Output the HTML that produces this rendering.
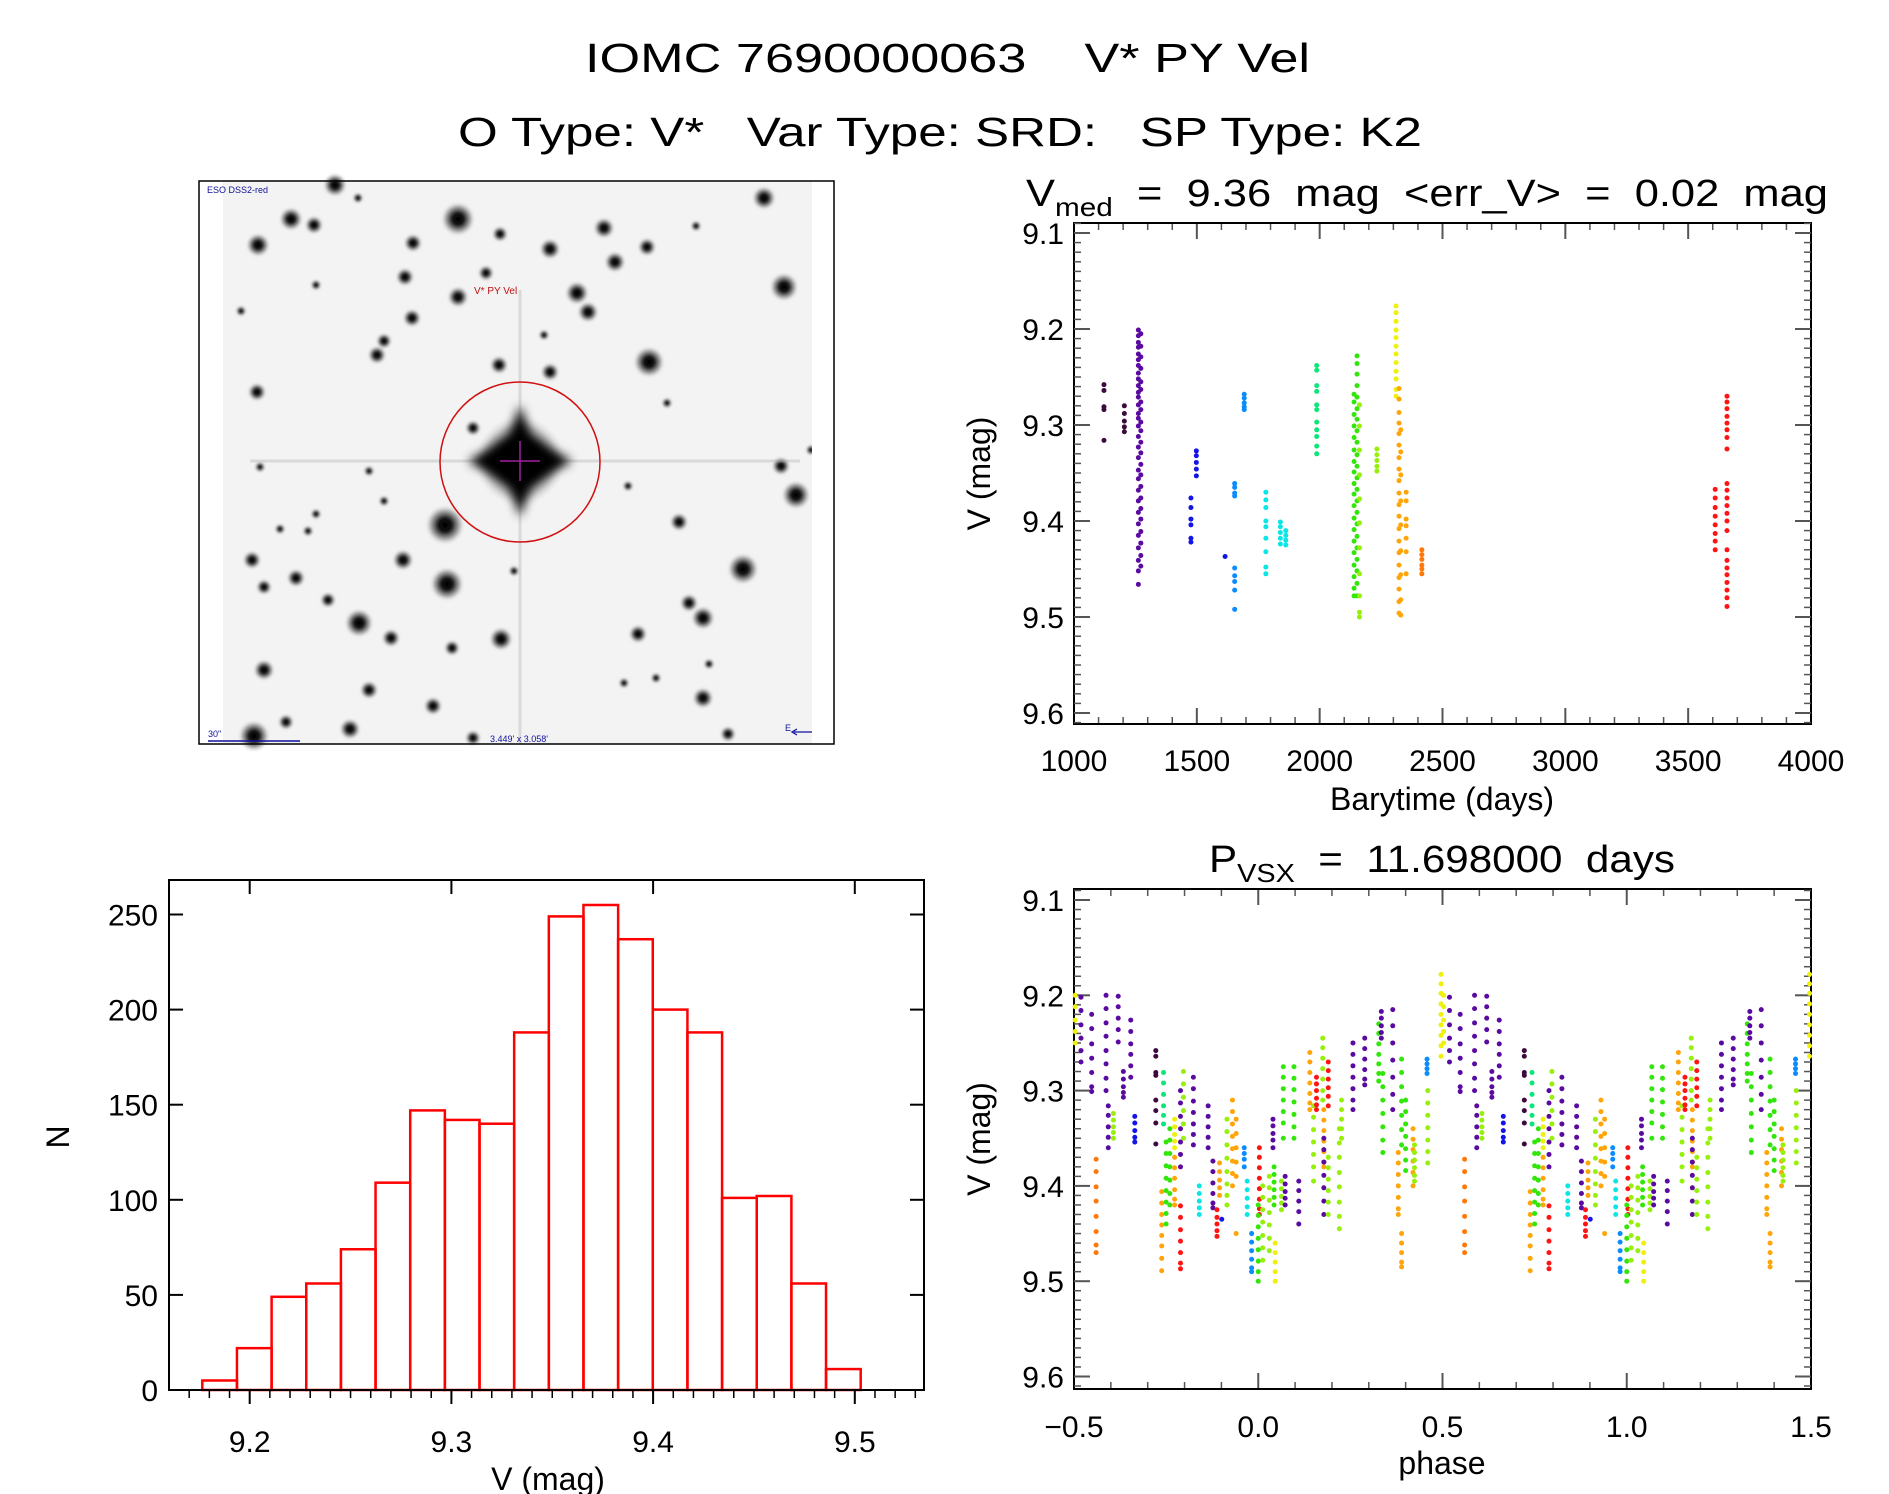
<!DOCTYPE html>
<html><head><meta charset="utf-8">
<style>
html,body{margin:0;padding:0;background:#fff;}
svg{display:block;font-family:"Liberation Sans",sans-serif;}
text{white-space:pre;}
</style></head>
<body>
<svg id="fig" width="1889" height="1494" viewBox="0 0 1889 1494" xmlns="http://www.w3.org/2000/svg">
<defs>
<radialGradient id="starg"><stop offset="0" stop-color="#000"/><stop offset="0.35" stop-color="#111"/><stop offset="0.7" stop-color="#666" stop-opacity="0.6"/><stop offset="1" stop-color="#ccc" stop-opacity="0"/></radialGradient>
<radialGradient id="maing"><stop offset="0" stop-color="#000"/><stop offset="0.4" stop-color="#111"/><stop offset="0.75" stop-color="#777" stop-opacity="0.5"/><stop offset="1" stop-color="#ddd" stop-opacity="0"/></radialGradient>
<filter id="blur1" x="-20%" y="-20%" width="140%" height="140%"><feGaussianBlur stdDeviation="1.2"/></filter>
<filter id="blur6" x="-50%" y="-50%" width="200%" height="200%"><feGaussianBlur stdDeviation="5"/></filter>
</defs>
<rect width="1889" height="1494" fill="#fff"/>
<text x="585" y="72" font-size="41" textLength="725" lengthAdjust="spacingAndGlyphs">IOMC 7690000063    V* PY Vel</text>
<text x="458" y="146" font-size="41" textLength="964" lengthAdjust="spacingAndGlyphs">O Type: V*   Var Type: SRD:   SP Type: K2</text>

<g id="image-panel">
<rect x="223" y="181" width="589" height="563" fill="#f3f3f3"/>
<g id="stars" filter="url(#blur1)"></g>
<line x1="250" y1="461" x2="800" y2="461" stroke="#aaa" stroke-width="3" opacity="0.35"/>
<line x1="520" y1="290" x2="520" y2="744" stroke="#aaa" stroke-width="3" opacity="0.35"/>
<circle cx="520" cy="461" r="45" fill="url(#maing)"/>
<g filter="url(#blur6)">
<polygon points="520,405 540,461 520,517 500,461" fill="#000"/>
<polygon points="520,431 572,461 520,491 468,461" fill="#000"/>
<circle cx="520" cy="461" r="22" fill="#000"/>
</g>
<line x1="500" y1="461" x2="540" y2="461" stroke="#a020a0" stroke-width="1.5"/>
<line x1="520" y1="441" x2="520" y2="481" stroke="#a020a0" stroke-width="1.5"/>
<circle cx="520" cy="462" r="80" fill="none" stroke="#d01010" stroke-width="1.5"/>
<text x="474" y="294" font-size="10" fill="#c01010">V* PY Vel</text>
<text x="207" y="193" font-size="9" fill="#10109a">ESO DSS2-red</text>
<text x="208" y="737" font-size="9" fill="#10109a">30"</text>
<line x1="208" y1="741" x2="300" y2="741" stroke="#10109a" stroke-width="1.5"/>
<text x="490" y="742" font-size="9" fill="#10109a">3.449' x 3.058'</text>
<path d="M825,702 L825,732 L794,732 M822,706 L825,700 L828,706 M797,729 L792,732 L797,735" fill="none" stroke="#10109a" stroke-width="1.3"/>
<text x="827" y="700" font-size="9" fill="#10109a">N</text>
<text x="785" y="731" font-size="9" fill="#10109a">E</text>
<rect x="812" y="181" width="24" height="563" fill="#fff"/>
<rect x="199" y="181" width="635" height="563" fill="none" stroke="#000" stroke-width="1.5"/>
</g>

<g id="hist"></g>
<g id="lc"></g>
<g id="ph"></g>
</svg>
<script>
// ---------------- data ----------------
const histCounts = [5,22,49,56,74,109,147,142,140,188,249,255,237,200,188,101,102,56,11];
const histStart = 9.1765;
const histBinWidth = 0.01718;
const histYTicks = [0,50,100,150,200,250];
const histXTicks = [9.2,9.3,9.4,9.5];
const colors = ["#3c0a3c","#5a0aa0","#1414e6","#0a8cff","#0ae6e6","#0ae678","#32e60a","#96f00a","#f0f00a","#ffa50a","#ff780a","#ff1414"];
const lcTimes = [1122,1205,1262,1272,1476,1498,1615,1654,1693,1781,1840,1862,1988,2140,2152,2162,2233,2311,2323,2330,2352,2416,3610,3658];
const lcColor = [0,0,1,1,2,2,2,3,3,4,4,4,5,6,6,7,7,8,9,9,9,10,11,11];
const lcMags = [
 [9.258,9.264,9.281,9.284,9.316],
 [9.280,9.288,9.296,9.302,9.307],
 [9.201,9.207,9.214,9.219,9.226,9.232,9.238,9.246,9.252,9.259,9.266,9.271,9.279,9.288,9.293,9.301,9.312,9.323,9.334,9.347,9.356,9.368,9.379,9.391,9.403,9.415,9.428,9.441,9.452,9.466],
 [9.205,9.218,9.229,9.241,9.255,9.263,9.276,9.284,9.297,9.306,9.318,9.329,9.341,9.352,9.364,9.376,9.387,9.398,9.411,9.423,9.436,9.447],
 [9.376,9.386,9.398,9.404,9.418,9.422],
 [9.327,9.332,9.339,9.346,9.353],
 [9.437],
 [9.361,9.365,9.371,9.374,9.449,9.457,9.463,9.472,9.492],
 [9.268,9.272,9.277,9.281,9.284],
 [9.370,9.378,9.386,9.400,9.406,9.418,9.432,9.448,9.455],
 [9.401,9.406,9.412,9.418,9.424],
 [9.410,9.415,9.420,9.425],
 [9.238,9.243,9.259,9.265,9.279,9.284,9.297,9.305,9.312,9.322,9.330],
 [9.268,9.276,9.289,9.301,9.313,9.326,9.338,9.349,9.361,9.372,9.384,9.397,9.409,9.421,9.433,9.446,9.458,9.470,9.478],
 [9.228,9.236,9.247,9.259,9.271,9.283,9.294,9.306,9.318,9.331,9.343,9.355,9.367,9.379,9.391,9.403,9.416,9.428,9.440,9.452,9.465,9.478],
 [9.279,9.301,9.326,9.352,9.377,9.402,9.428,9.455,9.478,9.495,9.500],
 [9.325,9.331,9.337,9.343,9.348],
 [9.176,9.183,9.192,9.201,9.209,9.218,9.226,9.235,9.244,9.252,9.263,9.270],
 [9.262,9.273,9.287,9.298,9.309,9.321,9.334,9.346,9.358,9.371,9.383,9.395,9.408,9.421,9.433,9.446,9.459,9.471,9.484,9.496],
 [9.305,9.328,9.352,9.379,9.404,9.431,9.456,9.482,9.498],
 [9.370,9.379,9.398,9.405,9.418,9.432,9.455],
 [9.430,9.435,9.440,9.446,9.450,9.455],
 [9.367,9.376,9.386,9.395,9.404,9.413,9.421,9.430],
 [9.270,9.276,9.283,9.291,9.298,9.305,9.313,9.325,9.361,9.368,9.376,9.384,9.392,9.400,9.410,9.430,9.441,9.449,9.456,9.464,9.472,9.480,9.489]
];
const lcXTicks = [1000,1500,2000,2500,3000,3500,4000];
const magTicks = [9.1,9.2,9.3,9.4,9.5,9.6];
const phXTicks = [-0.5,0.0,0.5,1.0,1.5];
const phXLabels = ["\u22120.5","0.0","0.5","1.0","1.5"];
const phPhases = [-0.497,-0.481,-0.452,-0.440,-0.413,-0.407,-0.393,-0.380,-0.366,-0.346,-0.335,-0.278,-0.262,-0.257,-0.250,-0.240,-0.227,-0.227,-0.211,-0.211,-0.203,-0.176,-0.160,-0.136,-0.123,-0.112,-0.105,-0.099,-0.085,-0.070,-0.060,-0.038,-0.030,-0.018,0.003,0.000,0.012,0.030,0.043,0.040,0.046,0.063,0.068,0.073,0.097,0.110,0.140,0.150,0.158,0.175,0.178,0.178,0.190,0.190,0.220,0.226,0.257,0.289,0.327,0.338,0.334,0.365,0.389,0.400,0.380,0.389,0.420,0.424,0.458,0.460,0.496];
const phColor = [8,1,1,10,1,1,7,1,1,1,2,0,9,5,6,6,8,9,11,1,7,1,4,1,1,11,9,2,7,9,9,3,4,3,11,6,7,7,6,1,8,7,6,1,6,1,9,7,11,7,9,1,11,7,7,7,1,1,6,6,1,1,6,6,9,9,9,7,3,7,8];
const phMags = [
 [9.200,9.212,9.226,9.238,9.250],
 [9.202,9.216,9.231,9.245,9.258,9.270],
 [9.220,9.235,9.251,9.266,9.281,9.296,9.301],
 [9.372,9.385,9.401,9.416,9.432,9.448,9.462,9.470],
 [9.200,9.214,9.229,9.243,9.258,9.272,9.287,9.300],
 [9.316,9.326,9.338,9.349,9.360],
 [9.324,9.331,9.338,9.344,9.350],
 [9.201,9.212,9.224,9.236,9.249],
 [9.280,9.288,9.296,9.302,9.307],
 [9.226,9.238,9.251,9.262,9.274,9.286],
 [9.327,9.334,9.342,9.349,9.354],
 [9.258,9.264,9.281,9.284,9.310,9.321,9.334,9.356],
 [9.406,9.418,9.430,9.441,9.452,9.463,9.476,9.489],
 [9.281,9.292,9.304,9.316,9.326,9.335],
 [9.354,9.366,9.379,9.392,9.405,9.417,9.429,9.440],
 [9.340,9.352,9.366,9.380,9.394,9.408,9.420],
 [9.330,9.338,9.346,9.353,9.360],
 [9.370,9.381,9.392,9.404,9.414,9.420],
 [9.421,9.433,9.446,9.458,9.470,9.481,9.487],
 [9.300,9.313,9.327,9.340,9.354,9.367,9.380],
 [9.280,9.293,9.307,9.321,9.335,9.350],
 [9.286,9.298,9.311,9.323,9.335,9.346,9.357],
 [9.400,9.408,9.416,9.423,9.430],
 [9.316,9.327,9.338,9.349,9.360],
 [9.374,9.385,9.397,9.408,9.418,9.423],
 [9.425,9.433,9.440,9.447,9.453],
 [9.376,9.385,9.394,9.402,9.410],
 [9.435],
 [9.330,9.343,9.357,9.371,9.385,9.398,9.410,9.420],
 [9.310,9.322,9.335,9.348,9.361,9.374,9.387,9.400],
 [9.330,9.345,9.360,9.375,9.390,9.450],
 [9.360,9.366,9.372,9.380],
 [9.395,9.404,9.413,9.422,9.430],
 [9.450,9.459,9.468,9.477,9.486,9.490],
 [9.360,9.370,9.381,9.392,9.403,9.414,9.424,9.430],
 [9.420,9.431,9.443,9.455,9.467,9.479,9.490,9.500],
 [9.400,9.412,9.425,9.438,9.452,9.465,9.478],
 [9.390,9.402,9.415,9.428,9.441,9.455,9.468],
 [9.380,9.388,9.396,9.404,9.412,9.420],
 [9.330,9.337,9.345,9.352,9.360],
 [9.460,9.470,9.480,9.490,9.500],
 [9.395,9.403,9.411,9.418,9.425],
 [9.275,9.286,9.298,9.310,9.322,9.334,9.350],
 [9.390,9.398,9.406,9.413,9.420],
 [9.275,9.287,9.299,9.312,9.325,9.338,9.350],
 [9.395,9.405,9.416,9.427,9.440],
 [9.260,9.270,9.281,9.292,9.303,9.313,9.320],
 [9.316,9.328,9.341,9.354,9.367,9.380,9.395],
 [9.286,9.293,9.300,9.308,9.315,9.320],
 [9.245,9.255,9.266,9.277,9.288,9.300,9.310],
 [9.320,9.331,9.342,9.353,9.364,9.375,9.380],
 [9.350,9.362,9.375,9.389,9.402,9.416,9.430],
 [9.270,9.279,9.288,9.297,9.306,9.316],
 [9.370,9.381,9.393,9.405,9.417,9.430],
 [9.340,9.355,9.370,9.386,9.401,9.417,9.432,9.445],
 [9.310,9.320,9.330,9.340,9.350],
 [9.250,9.262,9.274,9.286,9.298,9.310,9.320],
 [9.245,9.256,9.267,9.278,9.288,9.294],
 [9.230,9.240,9.251,9.262,9.272,9.282,9.290],
 [9.282,9.296,9.310,9.324,9.338,9.352,9.365],
 [9.217,9.224,9.232,9.239,9.245],
 [9.215,9.232,9.250,9.268,9.286,9.304,9.320],
 [9.267,9.281,9.296,9.311,9.326,9.341,9.357],
 [9.310,9.322,9.335,9.348,9.361,9.373,9.384],
 [9.365,9.376,9.388,9.400,9.412,9.424,9.430],
 [9.450,9.460,9.470,9.480,9.485],
 [9.340,9.351,9.362,9.374,9.386,9.400],
 [9.357,9.365,9.373,9.381,9.389,9.395],
 [9.267,9.272,9.277,9.282],
 [9.300,9.313,9.326,9.339,9.352,9.364,9.376],
 [9.178,9.188,9.198,9.209,9.220,9.231,9.242,9.253,9.264]
];

// ---------------- helpers ----------------
const NS = "http://www.w3.org/2000/svg";
function mk(parent, tag, attrs){const e=document.createElementNS(NS,tag);for(const k in attrs)e.setAttribute(k,attrs[k]);parent.appendChild(e);return e;}
function txt(parent, x, y, s, size, anchor){const t=mk(parent,"text",{x:x,y:y,"font-size":size,"text-anchor":anchor||"middle"});t.textContent=s;return t;}

// ---------------- stars ----------------
const starList = [[458,219,13],[335,185,9],[291,219,9],[314,225,7],[258,245,9],[764,198,9],[604,228,8],[550,249,8],[647,247,7],[615,262,8],[413,243,7],[500,234,6],[405,277,7],[486,273,6],[458,297,8],[577,293,9],[588,312,8],[784,287,11],[412,318,7],[384,341,6],[377,355,7],[649,362,12],[499,365,7],[550,372,7],[257,392,7],[473,428,6],[781,466,7],[796,495,11],[445,525,15],[679,522,7],[403,560,8],[252,560,7],[743,569,12],[447,584,13],[296,578,7],[264,587,6],[359,623,11],[703,618,9],[689,603,7],[328,600,6],[501,639,9],[391,638,7],[638,634,7],[452,648,6],[264,670,8],[369,690,7],[703,698,8],[433,706,7],[350,729,8],[286,722,6],[254,736,12],[473,738,6],[728,734,6],[316,514,4],[241,311,4],[316,285,4],[544,335,4],[628,486,4],[260,467,4],[369,471,4],[384,501,4],[514,571,4],[624,683,4],[656,678,4],[709,664,4],[280,529,4],[308,531,4],[358,198,4],[696,226,4],[811,450,4],[667,403,4]];
const sg = document.getElementById("stars");
starList.forEach(s=>{const c=mk(sg,"circle",{cx:s[0],cy:s[1],r:s[2]*1.3,fill:"url(#starg)"});

});

// ---------------- histogram ----------------
(function(){
 const g=document.getElementById("hist");
 const L=169,R=924,T=880,B=1390;
 const xH=v=>249.7+(v-9.2)*2017;
 const yH=n=>1390-n*1.902;
 histCounts.forEach((n,i)=>{
  const x0=xH(histStart+i*histBinWidth), x1=xH(histStart+(i+1)*histBinWidth);
  const r=mk(g,"rect",{x:x0,y:yH(n),width:x1-x0,height:yH(0)-yH(n),fill:"none",stroke:"#ff0000","stroke-width":2.5});
  
  
 });
 const ax=mk(g,"rect",{x:L,y:T,width:R-L,height:B-T,fill:"none",stroke:"#000","stroke-width":2});
 
 
 for(let v=9.17;v<=9.535;v+=0.01){const x=xH(v);if(x>R)continue;mk(g,"line",{x1:x,y1:B,x2:x,y2:B+8,stroke:"#000","stroke-width":1.5});}
 histXTicks.forEach(v=>{const x=xH(v);mk(g,"line",{x1:x,y1:B,x2:x,y2:B+14,stroke:"#000","stroke-width":2});mk(g,"line",{x1:x,y1:T,x2:x,y2:T+14,stroke:"#000","stroke-width":2});
  const t=txt(g,x,1452,v.toFixed(1),30);});
 histYTicks.forEach(n=>{const y=yH(n);mk(g,"line",{x1:L,y1:y,x2:L+14,y2:y,stroke:"#000","stroke-width":2});mk(g,"line",{x1:R-14,y1:y,x2:R,y2:y,stroke:"#000","stroke-width":2});
  const t=txt(g,158,y+11,String(n),30,"end");});
 const xt=txt(g,548,1490,"V (mag)",32);
 const yt=txt(g,0,0,"N",32);yt.setAttribute("transform","translate(69,1137) rotate(-90)");
 
})();

// ---------------- mag axes helper ----------------
function magAxes(g,L,R,T,B,yM,name){
 const ax=mk(g,"rect",{x:L,y:T,width:R-L,height:B-T,fill:"none",stroke:"#000","stroke-width":2});
 
 
 for(let m=9.09;m<=9.611;m+=0.01){const y=yM(m);if(y<T||y>B)continue;
  mk(g,"line",{x1:L,y1:y,x2:L+7,y2:y,stroke:"#555","stroke-width":1.5});mk(g,"line",{x1:R-7,y1:y,x2:R,y2:y,stroke:"#555","stroke-width":1.5});}
 magTicks.forEach(m=>{const y=yM(m);mk(g,"line",{x1:L,y1:y,x2:L+16,y2:y,stroke:"#555","stroke-width":2});mk(g,"line",{x1:R-16,y1:y,x2:R,y2:y,stroke:"#555","stroke-width":2});
  const t=txt(g,L-10,y+11,m.toFixed(1),30,"end");});
 const yt=txt(g,0,0,"V (mag)",32);yt.setAttribute("transform","translate(990,"+((T+B)/2)+") rotate(-90)");
 
}

// ---------------- light curve ----------------
(function(){
 const g=document.getElementById("lc");
 const L=1074,R=1811,T=223,B=724;
 const xL=t=>1074+(t-1000)*(737/3000);
 const yL=m=>233+(m-9.1)*960;
 for(let t=1000;t<=4000;t+=100){const x=xL(t);mk(g,"line",{x1:x,y1:B,x2:x,y2:B-7,stroke:"#555","stroke-width":1.5});mk(g,"line",{x1:x,y1:T,x2:x,y2:T+7,stroke:"#555","stroke-width":1.5});}
 lcXTicks.forEach(t=>{const x=xL(t);mk(g,"line",{x1:x,y1:B,x2:x,y2:B-16,stroke:"#555","stroke-width":2});mk(g,"line",{x1:x,y1:T,x2:x,y2:T+16,stroke:"#555","stroke-width":2});
  const lab=txt(g,x,771,String(t),30);});
 magAxes(g,L,R,T,B,yL,"lc");
 lcTimes.forEach((t,i)=>{lcMags[i].forEach(m=>{
  const c=mk(g,"circle",{cx:xL(t),cy:yL(m),r:2.5,fill:colors[lcColor[i]]});
  
  });});
 const tt=mk(g,"text",{x:1026,y:206,"font-size":38,textLength:802,lengthAdjust:"spacingAndGlyphs"});
 tt.innerHTML='V<tspan dy="10" font-size="26">med</tspan><tspan dy="-10">  =  9.36  mag  &lt;err_V&gt;  =  0.02  mag</tspan>';
 
 const xt=txt(g,1442,810,"Barytime (days)",32);
})();

// ---------------- phase plot ----------------
(function(){
 const g=document.getElementById("ph");
 const L=1074,R=1811,T=889,B=1389;
 const xP=p=>1074+(p+0.5)*368.5;
 const yP=m=>900+(m-9.1)*953;
 for(let i=0;i<=20;i++){const x=xP(-0.5+i*0.1);mk(g,"line",{x1:x,y1:B,x2:x,y2:B-7,stroke:"#555","stroke-width":1.5});mk(g,"line",{x1:x,y1:T,x2:x,y2:T+7,stroke:"#555","stroke-width":1.5});}
 phXTicks.forEach((p,i)=>{const x=xP(p);mk(g,"line",{x1:x,y1:B,x2:x,y2:B-16,stroke:"#555","stroke-width":2});mk(g,"line",{x1:x,y1:T,x2:x,y2:T+16,stroke:"#555","stroke-width":2});
  const lab=txt(g,x,1437,phXLabels[i],30);});
 magAxes(g,L,R,T,B,yP,"phase");
 phPhases.forEach((p,i)=>{[p,p+1].forEach(pp=>{if(pp<-0.5||pp>1.5)return;phMags[i].forEach(m=>{
  const c=mk(g,"circle",{cx:xP(pp),cy:yP(m),r:2.5,fill:colors[phColor[i]]});
  
  });});});
 const tt=mk(g,"text",{x:1209,y:872,"font-size":38,textLength:466,lengthAdjust:"spacingAndGlyphs"});
 tt.innerHTML='P<tspan dy="10" font-size="26">VSX</tspan><tspan dy="-10">  =  11.698000  days</tspan>';
 
 const xt=txt(g,1442,1474,"phase",32);
})();
</script>
</body></html>
